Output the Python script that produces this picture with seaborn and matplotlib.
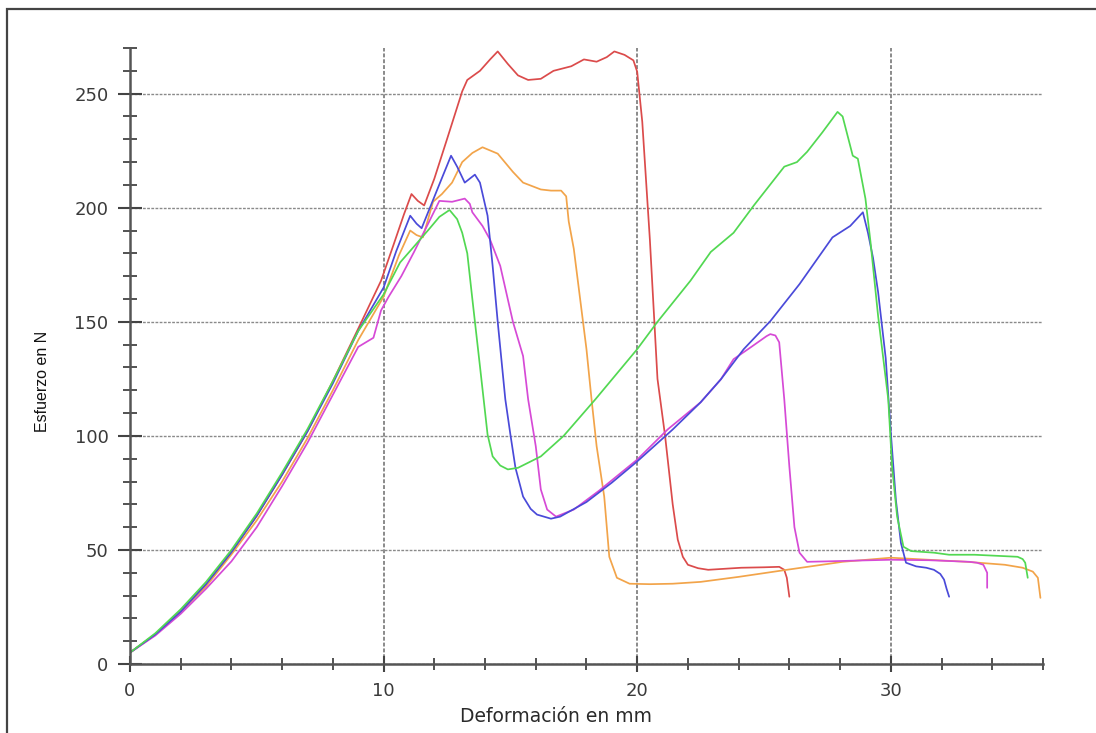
import numpy as np
import pandas as pd
import matplotlib
matplotlib.use("Agg")
import matplotlib.pyplot as plt
import seaborn as sns
from matplotlib.patches import Rectangle
from matplotlib.ticker import MultipleLocator, FixedLocator

# ---------------- data ----------------
red_x = [0, 1, 2, 3, 4, 5, 6, 7, 8, 9, 9.9, 10.4, 10.8, 11.1, 11.35, 11.6, 12.0, 12.5,
         13.1, 13.3, 13.8, 14.2, 14.5, 14.9, 15.3, 15.7, 16.2, 16.7, 17.4, 17.9, 18.4,
         18.8, 19.1, 19.5, 19.85, 20.0, 20.2, 20.5, 20.8, 21.1, 21.4, 21.6, 21.8, 22.0,
         22.4, 22.8, 24.1, 25.0, 25.6, 25.8, 25.9, 26.0]
red_y = [5, 13, 23, 35, 49, 65, 83, 102, 124, 147, 168, 184, 197, 206, 203, 201, 212.7, 230,
         251, 256, 260, 265, 268.5, 263, 258, 256, 256.5, 260, 262, 265, 264,
         266, 268.5, 267, 264.6, 259.6, 237.7, 186, 125, 100, 70, 54.5, 47, 43.5,
         42, 41.3, 42.2, 42.4, 42.6, 41.3, 37.8, 29.5]

blue_x = [0, 1, 2, 3, 4, 5, 6, 7, 8, 9, 10, 10.5, 11.05, 11.3, 11.5, 11.9, 12.3, 12.66,
          12.9, 13.2, 13.6, 13.8, 14.1, 14.3, 14.5, 14.8, 15.0, 15.2, 15.5, 15.8, 16.05,
          16.6, 16.96, 18, 19, 20, 21.4, 22.5, 23.3, 24.2, 25.25, 26.4, 27.7, 28.4, 28.9,
          29.1, 29.3, 29.5, 29.8, 30.0, 30.2, 30.4, 30.6, 31.0, 31.4, 31.7, 31.95, 32.1,
          32.2, 32.3]
blue_y = [5, 13, 23, 35, 49, 65, 83, 102, 123, 146, 165, 181, 196.5, 193, 191, 202, 213, 222.8,
          218, 211, 214.5, 211, 196.5, 174.5, 150, 116, 100.6, 86, 73.4, 68, 65.5,
          63.7, 64.6, 71, 79.5, 88.8, 102.8, 114.7, 124.8, 138, 150.3, 166.5, 187, 192, 198,
          189, 178, 163, 134, 101.5, 72, 53, 44.4, 42.8, 42.2, 41.3, 39.5, 37,
          33, 29.5]

orange_x = [0, 1, 2, 3, 4, 5, 6, 7, 8, 9, 10, 10.6, 11.05, 11.3, 11.55, 11.95, 12.3, 12.7,
            13.1, 13.5, 13.9, 14.5, 15.1, 15.5, 16.2, 16.6, 17.0, 17.2, 17.3, 17.5, 17.75,
            18.0, 18.2, 18.4, 18.7, 18.9, 19.2, 19.7, 20.5, 21.4, 22.5, 24.0, 25.9, 28.1,
            30.0, 33.0, 34.5, 35.2, 35.6, 35.8, 35.9]
orange_y = [5, 13, 23, 34, 48, 63, 80, 99, 120, 142, 161, 179, 190, 188, 187, 202.6, 206, 211,
            220, 224, 226.5, 223.7, 215.7, 211, 208, 207.5, 207.5, 205, 194, 182, 160,
            138, 116, 95.5, 73.4, 47, 37.8, 35.2, 35, 35.2, 36, 38.2, 41.3, 44.8,
            46.6, 44.8, 43.5, 42.2, 40.5, 37.8, 29]

magenta_x = [0, 1, 2, 3, 4, 5, 6, 7, 8, 9, 9.6, 9.9, 10.2, 10.7, 11.2, 11.8, 12.2, 12.7,
             13.2, 13.4, 13.5, 13.9, 14.2, 14.6, 15.1, 15.5, 15.7, 16.0, 16.2, 16.45, 16.8,
             17.5, 18.5, 20.0, 21.2, 22.5, 23.3, 23.8, 24.5, 25.1, 25.25, 25.45, 25.6, 25.8,
             26.0, 26.2, 26.4, 26.7, 27.5, 28.5, 30.0, 31.5, 33.1, 33.4, 33.65, 33.8, 33.8]
magenta_y = [5, 12.5, 22, 33, 45, 60, 78, 97, 118, 139, 143, 155, 161, 170, 180.6, 194, 203, 202.6,
             204, 201.7, 198, 192, 186, 174.5, 150, 135, 116, 95.5, 76.5, 67.7, 64.6,
             67.7, 76, 89.6, 102.8, 114.7, 124.8, 133.6, 139, 143.7, 144.6, 144, 141, 116,
             86.6, 60, 48.8, 44.8, 45, 45.3, 45.7, 45.5, 44.8, 44.4, 43.5, 40, 33.4]

green_x = [0, 1, 2, 3, 4, 5, 6, 7, 8, 9, 10, 10.65, 11.2, 11.8, 12.2, 12.6, 12.9, 13.1,
           13.3, 13.5, 13.8, 14.1, 14.3, 14.6, 14.9, 15.3, 16.2, 17.1, 18.35, 20.0, 20.8,
           22.1, 22.9, 23.8, 24.6, 25.8, 26.3, 26.7, 27.3, 27.9, 28.1, 28.5, 28.7, 29.0,
           29.2, 29.5, 29.9, 30.05, 30.25, 30.5, 30.8, 31.7, 32.3, 33.3, 35.0, 35.2, 35.3,
           35.4]
green_y = [5, 13.5, 24, 36, 50, 66, 84, 103, 124, 146, 162, 176, 183, 190.7, 196, 199, 195, 189,
           180, 160, 130.5, 100.6, 91, 87, 85.3, 86, 91, 100, 116, 138, 150,
           168, 180.6, 189, 201, 218, 220, 224.5, 233, 242, 240, 222.8, 221.5, 204,
           185, 152.5, 116, 86.6, 64.6, 51.4, 49.5, 48.8, 47.9, 47.9, 47, 46, 44.4,
           37.8]

series_names = ["rojo", "naranja", "magenta", "azul", "verde"]
series_colors = ["#db4b4b", "#f2a44a", "#d64ad6", "#4a4ad9", "#52d852"]

x_major = [0, 10, 20, 30]
y_major = [0, 50, 100, 150, 200, 250]
x_label = "Deformación en mm"
y_label = "Esfuerzo en N"

# ---------------- build table ----------------
all_x = [red_x, orange_x, magenta_x, blue_x, green_x]
all_y = [red_y, orange_y, magenta_y, blue_y, green_y]
frames = []
for name, xs, ys in zip(series_names, all_x, all_y):
    frames.append(pd.DataFrame({"x": xs, "y": ys, "serie": name}))
df = pd.concat(frames, ignore_index=True)

# ---------------- plot ----------------
sns.set_theme(style="white")
plt.rcParams["font.family"] = ["DejaVu Sans"]

fig = plt.figure(figsize=(10.96, 7.33), dpi=100)
ax = fig.add_axes([0.1186, 0.0941, 0.833, 0.8404])

sns.lineplot(data=df, x="x", y="y", hue="serie", hue_order=series_names,
             palette=dict(zip(series_names, series_colors)), sort=False,
             estimator=None, legend=False, linewidth=1.25, ax=ax)
for ln in ax.get_lines():
    ln.set_solid_joinstyle("round")

ax.set_xlim(0, 36)
ax.set_ylim(0, 270)

ax.xaxis.set_major_locator(FixedLocator(x_major))
ax.xaxis.set_minor_locator(MultipleLocator(2))
ax.yaxis.set_major_locator(FixedLocator(y_major))
ax.yaxis.set_minor_locator(MultipleLocator(10))

ax.xaxis.grid(True, which="major", color="#8a8a8a", linestyle=(0, (2, 1)), linewidth=1.4)
ax.yaxis.grid(True, which="major", color="#8a8a8a", linestyle=(0, (2, 1)), linewidth=1.0)
ax.set_axisbelow(True)

for s in ["top", "right"]:
    ax.spines[s].set_visible(False)
for s in ["left", "bottom"]:
    ax.spines[s].set_color("#555555")
    ax.spines[s].set_linewidth(1.8)

ax.tick_params(which="both", bottom=True, left=True, top=False, right=False)
ax.tick_params(axis="y", which="major", direction="inout", length=17, width=1.5,
               color="#444444", pad=7, labelsize=13, labelcolor="#3a3a3a")
ax.tick_params(axis="y", which="minor", direction="inout", length=10, width=1.3,
               color="#444444")
ax.tick_params(axis="x", which="major", direction="inout", length=12, width=1.5,
               color="#444444", pad=7, labelsize=13, labelcolor="#3a3a3a")
ax.tick_params(axis="x", which="minor", direction="inout", length=8.6, width=1.3,
               color="#444444")

ax.set_xlabel(x_label, fontsize=13.5, color="#2a2a2a")
ax.set_ylabel(y_label, fontsize=11.5, color="#111111", family=["Liberation Sans", "DejaVu Sans"])
ax.xaxis.set_label_coords(0.4666, -0.070)
ax.yaxis.set_label_coords(-0.0876, 0.459)

# outer frame
fig.add_artist(Rectangle((7 / 1096, -0.5), 2.0, 0.5 + (1 - 9 / 733), fill=False,
                         edgecolor="#444444", linewidth=1.6, transform=fig.transFigure,
                         clip_on=False))

fig.savefig("out.png", dpi=100)
